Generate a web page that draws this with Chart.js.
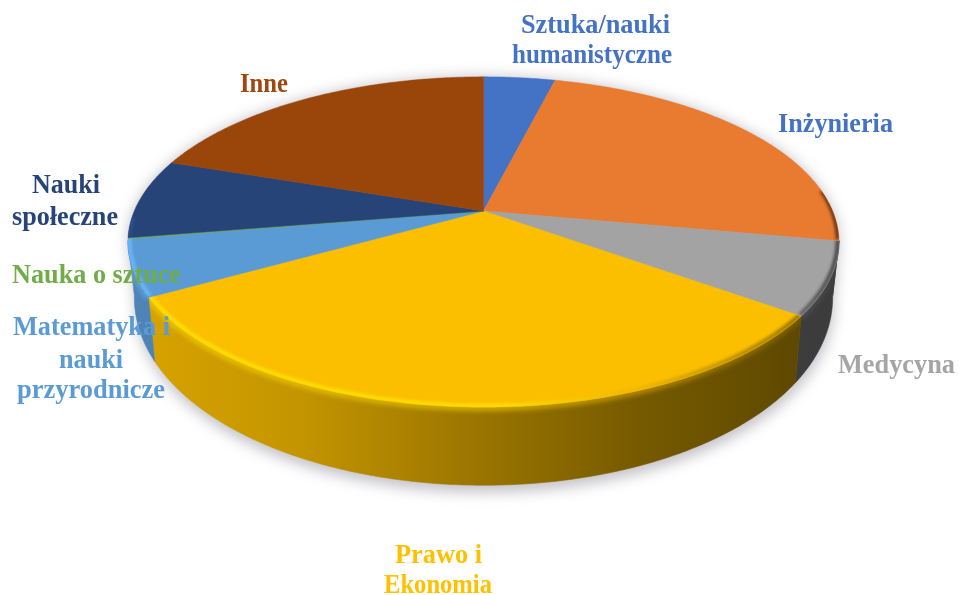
<!DOCTYPE html>
<html><head><meta charset="utf-8">
<style>html,body{margin:0;padding:0;background:#fff}canvas{display:block}</style>
<script src="https://cdn.jsdelivr.net/npm/chart.js@4"></script></head>
<body><div style="width:959px;height:595px"><canvas id="c" width="959" height="595"></canvas></div>
<script>
const categories = ['Sztuka/nauki humanistyczne','Inżynieria','Medycyna','Prawo i Ekonomia','Matematyka i nauki przyrodnicze','Nauka o sztuce','Nauki społeczne','Inne'];
const values = [3.9, 24.0, 7.1, 31.8, 5.5, 0.1, 7.8, 19.8];
const sliceColors = ['#4472C4','#E97B30','#A3A3A3','#FBBF00','#5B9BD5','#70AD47','#264478','#9A450A'];
const labelColors = ['#4472C4','#4472C4','#A5A5A5','#FFC000','#5B9BD5','#70AD47','#264478','#9E480E'];
const labelLines = [['Sztuka/nauki','humanistyczne'],['Inżynieria'],['Medycyna'],['Prawo i','Ekonomia'],['Matematyka i','nauki','przyrodnicze'],['Nauka o sztuce'],['Nauki','społeczne'],['Inne']];
// left edge, baseline and width of every label line
const labelBoxes = [
  [[521,33,149],[512,63,160]],
  [[778,132,115]],
  [[838,373,117]],
  [[395,563,87],[384,593,108]],
  [[13,335,157],[59,368,64],[17,398,148]],
  [[12,283,169]],
  [[32,193,68],[12,225,106]],
  [[240,92,48]]
];

// perspective view of the pie's disc
const view = {cx:483.5, cy:211, a:349.2, b:119.7, k:-0.1879};
const project = (t) => {
  const X = Math.cos(t), Y = Math.sin(t), w = 1 + view.k * Y;
  return [view.cx + view.a * X / w, (view.b * Y + view.cy) / w];
};
const bottom = (t) => {
  const p = project(t), Y = Math.sin(t);
  return [view.cx + (p[0] - view.cx) * 0.982, p[1] + 50 + 28 * Y];
};
const rgb = (h) => [1,3,5].map(i => parseInt(h.substr(i,2),16));
const shade = (h, m) => 'rgb(' + rgb(h).map(v => Math.min(255, Math.round(v * m))).join(',') + ')';
const wallGrad = (ctx, col) => {
  const g = ctx.createLinearGradient(130,0,810,0);
  [[0,.86],[.25,.78],[.5,.62],[.75,.47],[1,.37]].forEach(s => g.addColorStop(s[0], shade(col,s[1])));
  return g;
};
const rimGrad = (ctx, col) => {
  const g = ctx.createLinearGradient(130,0,840,0);
  [[0,1.18],[.52,1.16],[.72,.95],[.94,.6],[1,.42]].forEach(s => g.addColorStop(s[0], shade(col,s[1])));
  return g;
};
const samples = (s, e) => { const n = Math.max(2, Math.ceil((e - s) / 0.01)), r = []; for (let i = 0; i <= n; i++) r.push(s + (e - s) * i / n); return r; };
const trace = (ctx, pts, first) => pts.forEach((p, i) => (i === 0 && first) ? ctx.moveTo(p[0], p[1]) : ctx.lineTo(p[0], p[1]));

const pie3d = {
  id: 'pie3d',
  beforeDatasetsDraw(chart) {
    const ctx = chart.ctx, arcs = chart.getDatasetMeta(0).data;
    const ws = 0.18, we = Math.PI - 0.18;
    const turns = (arc) => [[arc.startAngle, arc.endAngle], [arc.startAngle + Math.PI * 2, arc.endAngle + Math.PI * 2]];
    ctx.save();
    // soft ground shadow
    ctx.save();
    ctx.filter = 'blur(7px)';
    ctx.fillStyle = 'rgba(110,110,125,0.42)';
    ctx.beginPath();
    const foot = samples(ws, we).map(bottom).map(p => [p[0] + 1, p[1] + 7]);
    trace(ctx, foot, true);
    trace(ctx, samples(we, ws + Math.PI * 2).map(project), false);
    ctx.closePath(); ctx.fill();
    ctx.restore();
    // side wall
    arcs.forEach((arc, i) => {
      turns(arc).forEach(r => {
        const s = Math.max(r[0], ws), e = Math.min(r[1], we);
        if (e <= s) return;
        const ang = samples(s, e);
        ctx.beginPath();
        trace(ctx, ang.map(project), true);
        trace(ctx, ang.slice().reverse().map(bottom), false);
        ctx.closePath();
        const g = wallGrad(ctx, sliceColors[i]);
        ctx.fillStyle = g; ctx.strokeStyle = g; ctx.lineWidth = .6;
        ctx.fill(); ctx.stroke();
      });
    });
    // top surface
    const wedge = (arc) => {
      ctx.beginPath();
      ctx.moveTo(view.cx, view.cy);
      trace(ctx, samples(arc.startAngle, arc.endAngle).map(project), false);
      ctx.closePath();
    };
    arcs.forEach((arc, i) => {
      wedge(arc);
      ctx.fillStyle = sliceColors[i]; ctx.strokeStyle = sliceColors[i]; ctx.lineWidth = .5;
      ctx.fill(); ctx.stroke();
    });
    // bevel on the visible rim
    arcs.forEach((arc, i) => {
      turns(arc).forEach(r => {
        const s = Math.max(r[0], -0.12), e = Math.min(r[1], Math.PI - 0.05);
        if (e <= s) return;
        ctx.save();
        wedge(arc);
        ctx.clip();
        ctx.filter = 'blur(1.6px)';
        ctx.beginPath();
        trace(ctx, samples(s, e).map(project).map(p => [p[0] + (view.cx - p[0]) * 0.004, p[1] - 1.5]), true);
        ctx.strokeStyle = rimGrad(ctx, sliceColors[i]); ctx.lineWidth = 4;
        ctx.stroke();
        ctx.restore();
      });
    });
    // soft top of the wall
    arcs.forEach((arc, i) => {
      turns(arc).forEach(r => {
        const s = Math.max(r[0], ws), e = Math.min(r[1], we);
        if (e <= s) return;
        const ang = samples(s, e);
        ctx.save();
        ctx.beginPath();
        trace(ctx, ang.map(project), true);
        trace(ctx, ang.slice().reverse().map(bottom), false);
        ctx.closePath();
        ctx.clip();
        ctx.filter = 'blur(2.5px)';
        ctx.beginPath();
        trace(ctx, ang.map(project).map(p => [p[0], p[1] + 1]), true);
        ctx.strokeStyle = rimGrad(ctx, sliceColors[i]); ctx.lineWidth = 5;
        ctx.globalAlpha = .6;
        ctx.stroke();
        ctx.restore();
      });
    });
    // labels
    ctx.font = 'bold 26.5px "Liberation Serif"';
    ctx.textAlign = 'left'; ctx.textBaseline = 'alphabetic';
    labelLines.forEach((lines, i) => {
      ctx.fillStyle = labelColors[i];
      lines.forEach((t, j) => {
        const b = labelBoxes[i][j];
        ctx.fillText(t, b[0], b[1], b[2]);
      });
    });
    ctx.restore();
    return false;
  }
};
new Chart(document.getElementById('c'), {
  type: 'pie',
  data: { labels: categories, datasets: [{ data: values, backgroundColor: sliceColors, borderWidth: 0 }] },
  options: { responsive: false, animation: false, plugins: { legend: { display: false }, tooltip: { enabled: false } } },
  plugins: [pie3d]
});
</script></body></html>
